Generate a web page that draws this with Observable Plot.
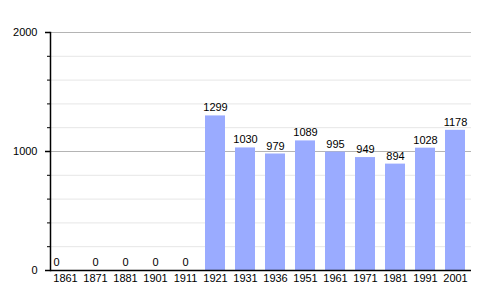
<!DOCTYPE html>
<html><head><meta charset="utf-8">
<script src="https://cdn.jsdelivr.net/npm/d3@7"></script>
<script src="https://cdn.jsdelivr.net/npm/@observablehq/plot@0.6"></script>
<style>body{margin:0;background:#fff;} svg{font-family:"Liberation Sans",Arial,sans-serif;}</style>
</head><body><div id="chart"></div>
<script>
const years = ["1861","1871","1881","1901","1911","1921","1931","1936","1951","1961","1971","1981","1991","2001"];
const population = [0,0,0,0,0,1299,1030,979,1089,995,949,894,1028,1178];
const majorTicks = [0,1000,2000];
const minorTicks = [200,400,600,800,1200,1400,1600,1800];

const data = years.map((y,i)=>({year:y, value:population[i]}));

const chart = Plot.plot({
  width: 500, height: 300,
  marginLeft: 50, marginRight: 29, marginTop: 32, marginBottom: 30,
  style: {fontFamily: "Liberation Sans, Arial, sans-serif", fontSize: "11px", color: "#000"},
  x: {domain: years, paddingInner: 0.32, paddingOuter: 0, label: null},
  y: {domain: [0,2000], label: null},
  marks: [
    Plot.ruleY(minorTicks, {stroke: "#e6e6e6", strokeWidth: 1}),
    Plot.ruleY([1000,2000], {stroke: "#b4b4b4", strokeWidth: 1}),
    Plot.barY(data, {x: "year", y: "value", fill: "#9aabff"}),
    Plot.text(data.slice(1), {x: "year", y: "value", text: d => String(d.value), dy: -8, fill: "#000", fontSize: 11}),
    Plot.text(data.slice(0,1), {x: "year", y: "value", text: d => String(d.value), dy: -8, dx: -9, fill: "#000", fontSize: 11}),
    Plot.axisY(majorTicks, {tickSize: 5, tickPadding: 8, label: null, fontSize: 11, tickFormat: d => String(d), strokeWidth: 1.5}),
    Plot.axisY(minorTicks, {tickSize: 3, tickFormat: () => "", label: null}),
    Plot.axisX({tickSize: 0, label: null, fontSize: 11, tickPadding: 4}),
    Plot.frame({anchor: "left", stroke: "#000", strokeWidth: 1.5}),
    Plot.ruleY([0], {stroke: "#000", strokeWidth: 1.5})
  ]
});
document.getElementById("chart").appendChild(chart);
</script></body></html>
